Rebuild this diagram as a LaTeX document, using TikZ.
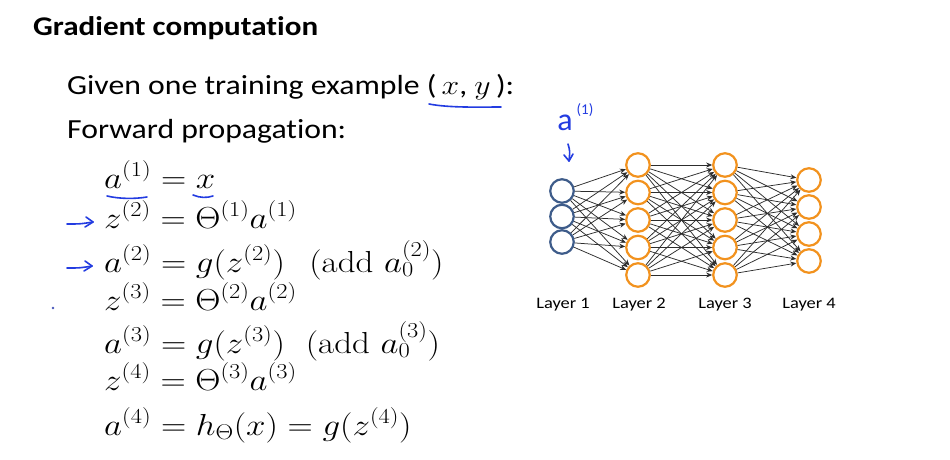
\RequirePackage{fix-cm}
\documentclass[tikz,border=0pt]{standalone}
\usepackage{graphicx}
\usepackage{fontspec}
\newfontfamily\calib{Carlito}[Ligatures={NoCommon}]
\usetikzlibrary{arrows.meta,calc}
\definecolor{norange}{RGB}{242,146,30}
\definecolor{nblue}{RGB}{62,92,138}
\definecolor{hblue}{RGB}{35,60,225}
\definecolor{edgegray}{RGB}{45,45,45}
\newcommand{\wide}[1]{\scalebox{1.15}[1]{#1}}
\begin{document}
\begin{tikzpicture}[x=1pt,y=-1pt,
  titlefont/.style={anchor=base west, inner sep=0pt, font=\calib\bfseries\fontsize{27}{32}\selectfont},
  body/.style={anchor=base west, inner sep=0pt, font=\calib\fontsize{27.6}{33}\selectfont},
  eqn/.style={anchor=base west, inner sep=0pt, font=\fontsize{30.4}{36}\selectfont},
  unit/.style={circle, draw, line width=2.2pt, minimum size=23.5pt, inner sep=0pt},
  inunit/.style={unit, draw=nblue},
  hidunit/.style={unit, draw=norange},
  edge/.style={draw=edgegray, line width=0.75pt, -{Stealth[length=6pt,width=5pt]}},
  laylab/.style={font=\calib\fontsize{16}{19}\selectfont, anchor=base, inner sep=0pt},
  hand/.style={draw=hblue, line width=1.6pt, line cap=round, line join=round}
]
\path[fill=white, use as bounding box] (0,0) rectangle (950,459);

% texts
\node[titlefont] (title) at (33,35) {\wide{Gradient computation}};
\node[body] (given) at (67,94) {\wide{Given one training example (\,$x$, $y$\,):}};
\node[body] (fwd) at (67,138) {\wide{Forward propagation:}};

\node[eqn] (e1) at (104,188) {\wide{$a^{(1)} = x$}};
\node[eqn] (e2) at (104,228) {\wide{$z^{(2)} = \Theta^{(1)}a^{(1)}$}};
\node[eqn] (e3) at (104,272) {\wide{$a^{(2)} = g(z^{(2)})\hspace{0.7em}(\mathrm{add}\ a_0^{(2)})$}};
\node[eqn] (e4) at (104,310) {\wide{$z^{(3)} = \Theta^{(2)}a^{(2)}$}};
\node[eqn] (e5) at (104,353) {\wide{$a^{(3)} = g(z^{(3)})\hspace{0.6em}(\mathrm{add}\ a_0^{(3)})$}};
\node[eqn] (e6) at (104,390) {\wide{$z^{(4)} = \Theta^{(3)}a^{(3)}$}};
\node[eqn] (e7) at (104,435) {\wide{$a^{(4)} = h_\Theta(x) = g(z^{(4)})$}};

% handwritten annotations
\coordinate (u1a) at (429,104); \coordinate (u1b) at (501,107);
\draw[hand] (u1a) .. controls (450,108) and (480,107) .. (u1b);
\coordinate (u2a) at (107,196); \coordinate (u2b) at (147,197);
\draw[hand] (u2a) .. controls (120,199) and (135,199) .. (u2b);
\coordinate (u3a) at (193,195); \coordinate (u3b) at (213,196);
\draw[hand] (u3a) .. controls (200,198) and (207,198) .. (u3b);
\coordinate (ar1a) at (67,224); \coordinate (ar1b) at (93,222);
\draw[hand] (ar1a) .. controls (80,224) .. (ar1b);
\draw[hand] ($(ar1b)+(-7,-5)$) -- (ar1b) -- ($(ar1b)+(-8,5)$);
\coordinate (ar2a) at (67,268); \coordinate (ar2b) at (92,266);
\draw[hand] (ar2a) .. controls (80,268) .. (ar2b);
\draw[hand] ($(ar2b)+(-7,-5)$) -- (ar2b) -- ($(ar2b)+(-8,5)$);
\coordinate (dot) at (53,308);
\fill[hblue!60!gray] (dot) circle (1.3pt);

% network
\foreach \k/\y in {1/191,2/216.5,3/242} \node[inunit] (a\k) at (562,\y) {};
\foreach \k/\y in {1/165,2/192.5,3/220,4/247.5,5/275} \node[hidunit] (b\k) at (638,\y) {};
\foreach \k/\y in {1/165,2/192.5,3/220,4/247.5,5/275} \node[hidunit] (c\k) at (725,\y) {};
\foreach \k/\y in {1/180,2/207,3/234,4/261} \node[hidunit] (d\k) at (809,\y) {};
\foreach \i in {1,...,3} \foreach \j in {1,...,5} \draw[edge] (a\i) -- (b\j);
\foreach \i in {1,...,5} \foreach \j in {1,...,5} \draw[edge] (b\i) -- (c\j);
\foreach \i in {1,...,5} \foreach \j in {1,...,4} \draw[edge] (c\i) -- (d\j);

\node[laylab] (l1) at (563,308) {\wide{Layer 1}};
\node[laylab] (l2) at (639,308) {\wide{Layer 2}};
\node[laylab] (l3) at (725,308) {\wide{Layer 3}};
\node[laylab] (l4) at (809,308) {\wide{Layer 4}};

\node[text=hblue, font=\calib\fontsize{32}{36}\selectfont, anchor=base, inner sep=0pt] (ahand) at (565,130) {a};
\node[text=hblue, font=\calib\fontsize{15}{18}\selectfont, anchor=base, inner sep=0pt] (ahsup) at (585,114) {(1)};
\coordinate (dtop) at (568,144); \coordinate (dbot) at (569,161);
\draw[hand] (dtop) .. controls (570,151) .. (dbot);
\draw[hand] ($(dbot)+(-5,-6)$) -- (dbot) -- ($(dbot)+(4,-7)$);
\end{tikzpicture}
\end{document}
